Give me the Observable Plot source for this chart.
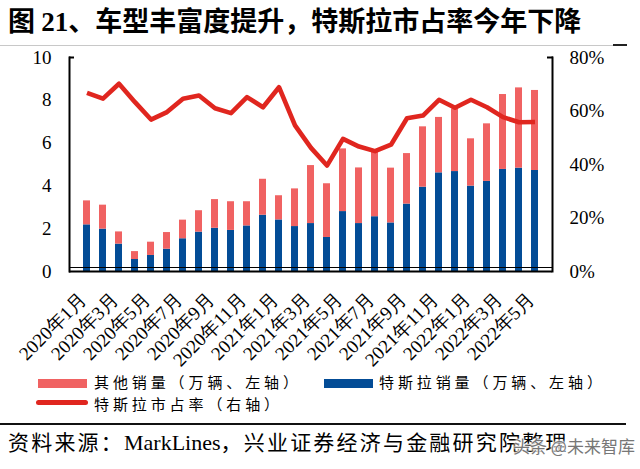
<!DOCTYPE html>
<html><head><meta charset="utf-8">
<script src="https://cdn.jsdelivr.net/npm/d3@7"></script>
<script src="https://cdn.jsdelivr.net/npm/@observablehq/plot@0.6"></script>
<style>
body{margin:0;width:640px;height:469px;position:relative;background:#fff;overflow:hidden;font-family:"Noto Sans CJK SC","Liberation Serif",sans-serif;color:#000;}
.abs{position:absolute;white-space:nowrap;}
#title{left:8px;top:3px;font-size:27px;font-weight:bold;line-height:34px;}
#title .num{font-family:"Liberation Serif",serif;font-weight:bold;}
#rule1{left:0;top:45px;width:627px;height:1px;background:#c8c8c8;}
#rule1b{left:613px;top:44px;width:14px;height:2px;background:#222;}
#chart{left:0;top:46px;}
.sw{position:absolute;}
.lg{font-size:15px;letter-spacing:3.9px;line-height:20px;}
#rule2{left:0;top:423px;width:626px;height:2px;background:#111;}
#source{left:8px;top:427px;font-size:21px;letter-spacing:2.2px;line-height:28px;}
#source .lat{font-family:"Liberation Serif",serif;font-size:22px;letter-spacing:0;}
#wm{left:513px;top:434px;font-size:17px;line-height:24px;color:#777;text-shadow:0 0 2px #fff,0 0 2px #fff,0 0 3px #fff,0 0 3px #fff;}
</style></head><body>
<div id="title" class="abs">图 <span class="num">21</span>、车型丰富度提升，特斯拉市占率今年下降</div>
<div id="rule1" class="abs"></div><div id="rule1b" class="abs"></div>
<div id="chart" class="abs"></div>
<div class="sw" style="left:38px;top:379px;width:49px;height:9px;background:#F06262;"></div>
<div class="abs lg" style="left:94px;top:372px;">其他销量（万辆、左轴）</div>
<div class="sw" style="left:324px;top:379px;width:49px;height:9px;background:#034C96;"></div>
<div class="abs lg" style="left:379px;top:372px;">特斯拉销量（万辆、左轴）</div>
<div class="sw" style="left:36px;top:399.5px;width:52px;height:5px;border-radius:3px;background:#E0261F;"></div>
<div class="abs lg" style="left:94px;top:394px;">特斯拉市占率（右轴）</div>
<div id="rule2" class="abs"></div>
<div id="source" class="abs">资料来源：<span class="lat">MarkLines</span>，兴业证券经济与金融研究院整理</div>
<div id="wm" class="abs">头条 @未来智库</div>
<script>
const months = ["2020年1月","2020年2月","2020年3月","2020年4月","2020年5月","2020年6月","2020年7月","2020年8月","2020年9月","2020年10月","2020年11月","2020年12月",
"2021年1月","2021年2月","2021年3月","2021年4月","2021年5月","2021年6月","2021年7月","2021年8月","2021年9月","2021年10月","2021年11月","2021年12月",
"2022年1月","2022年2月","2022年3月","2022年4月","2022年5月"];
const tickMonths = ["2020年1月","2020年3月","2020年5月","2020年7月","2020年9月","2020年11月","2021年1月","2021年3月","2021年5月","2021年7月","2021年9月","2021年11月","2022年1月","2022年3月","2022年5月"];
// 特斯拉销量（万辆）
const tesla = [2.18,1.98,1.28,0.56,0.75,1.04,1.53,1.84,2.02,1.92,2.13,2.63,2.41,2.10,2.24,1.59,2.80,2.24,2.56,2.27,3.15,3.94,4.61,4.67,3.99,4.21,4.77,4.83,4.72];
// 总销量（特斯拉+其他，万辆）
const total = [3.30,3.10,1.85,0.93,1.37,1.82,2.40,2.84,3.36,3.26,3.26,4.31,3.54,3.86,4.95,4.10,5.73,4.84,5.65,4.83,5.51,6.76,7.20,7.60,6.20,6.90,8.27,8.58,8.46];
// 特斯拉市占率（%）
const share = [66.8,64.6,70.2,63.3,56.8,59.6,64.6,65.8,61.0,59.2,65.2,61.4,68.9,54.6,46.2,39.6,49.6,46.7,45.0,47.4,57.3,58.3,64.2,61.2,64.2,61.4,57.7,55.8,55.9];
const leftTicks = [0,2,4,6,8,10];
const rightTicks = [0,20,40,60,80];
const yMax = 10, rMax = 80;

const data = months.map((m,i)=>({m, tesla:tesla[i], total:total[i], share:share[i]}));
const colOther = "#F06262", colTesla = "#034C96", colLine = "#E0261F";
const serif = '"Liberation Serif", "Times New Roman", serif';

const chart = Plot.plot({
  width: 640, height: 345,
  marginTop: 11, marginBottom: 120, marginLeft: 69, marginRight: 88,
  style: {fontFamily: serif, background: "transparent", color: "#000"},
  x: {type: "band", domain: months, paddingInner: 0.58, paddingOuter: 0.29, label: null},
  y: {domain: [0, yMax], label: null},
  marks: [
    Plot.barY(data, {x: "m", y1: 0, y2: "tesla", fill: colTesla}),
    Plot.barY(data, {x: "m", y1: "tesla", y2: "total", fill: colOther}),
    Plot.line(data, {x: "m", y: d => d.share * yMax / rMax, stroke: colLine, strokeWidth: 4.6, strokeLinejoin: "round", strokeLinecap: "butt"}),
    Plot.frame({anchor: "left", stroke: "#000", strokeWidth: 2}),
    Plot.frame({anchor: "right", stroke: "#000", strokeWidth: 2}),
    Plot.ruleY([0], {stroke: "#000", strokeWidth: 2}),
    Plot.ruleY([0], {stroke: "#000", strokeWidth: 1.2, dy: -4}),
    Plot.axisY(leftTicks, {anchor: "left", tickSize: 0, tickPadding: 18, fontSize: 19, fontFamily: serif}),
    Plot.axisY(rightTicks.map(v => v * yMax / rMax), {anchor: "right", tickSize: 0, tickPadding: 17, fontSize: 19, fontFamily: serif,
      tickFormat: v => Math.round(v * rMax / yMax) + "%"}),
    Plot.axisY([yMax], {anchor: "left", tickSize: -5, strokeWidth: 2, tickFormat: () => ""}),
    Plot.axisY([yMax], {anchor: "right", tickSize: -6, strokeWidth: 2, tickFormat: () => ""}),
    Plot.axisX(tickMonths, {anchor: "bottom", tickSize: 0, tickPadding: 25, dx: -4, tickRotate: -45, fontSize: 19, fontFamily: serif, label: null})
  ]
});
document.getElementById("chart").appendChild(chart);
</script>
</body></html>
